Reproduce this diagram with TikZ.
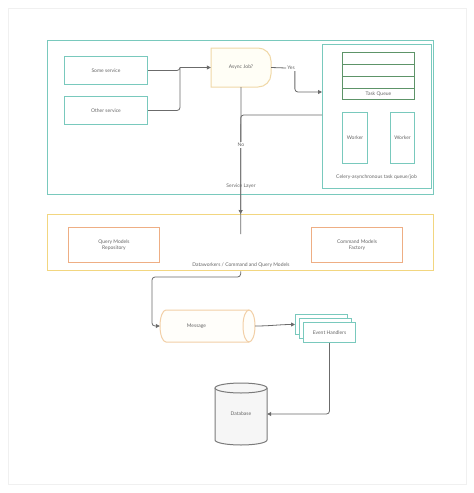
\documentclass[tikz,border=0pt]{standalone}
\usepackage{fontspec}
\setmainfont{Lato}
\usetikzlibrary{arrows.meta,calc}
\definecolor{teal1}{HTML}{79C9BD}
\definecolor{green1}{HTML}{5D9468}
\definecolor{yellow1}{HTML}{F2D680}
\definecolor{orange1}{HTML}{EEAE84}
\definecolor{asyncb}{HTML}{F0D9A8}
\definecolor{asyncf}{HTML}{FFFEF6}
\definecolor{msgb}{HTML}{F2CFA6}
\definecolor{msgf}{HTML}{FFFEFA}
\definecolor{linec}{HTML}{6B6B6B}
\definecolor{txt}{HTML}{666666}
\definecolor{dbf}{HTML}{F6F6F6}
\definecolor{dbb}{HTML}{7A7A7A}
\definecolor{pageb}{HTML}{F0F0F0}
\tikzset{
  lbl/.style={font=\fontsize{5}{6}\selectfont, text=txt, inner sep=1pt, align=center},
  svcbox/.style={draw=teal1, line width=1pt, fill=white},
  conn/.style={draw=linec, line width=0.8pt, rounded corners=3pt, -{Triangle[length=4pt,width=4pt]}},
  plain/.style={draw=linec, line width=0.8pt, rounded corners=3pt},
}
\newcommand{\rbox}[7]{% name, x1,y1,x2,y2, style, text
  \node[#6, minimum width=#4-#2, minimum height=#5-#3, anchor=north west, inner sep=0pt, lbl, text=txt] (#1) at (#2,#3) {#7};}
\begin{document}
\begin{tikzpicture}[x=1pt,y=-1pt]
\useasboundingbox (0,0) rectangle (474,493);
\fill[white] (0,0) rectangle (474,493);
\draw[pageb, line width=0.8pt] (8,8) rectangle (466,484);

% Service layer
\rbox{svc}{47}{40}{433}{194}{draw=teal1, line width=1.3pt}{}
\rbox{some}{64}{56}{147}{84}{svcbox}{Some service}
\rbox{other}{64}{96}{147}{124}{svcbox}{Other service}

% Async job shape
\filldraw[draw=asyncb, fill=asyncf, line width=1pt]
  (211,48) -- (258,48) arc[start angle=-90, end angle=0, radius=13]
  -- (271,74) arc[start angle=0, end angle=90, radius=13] -- (211,87) -- cycle;
\node[lbl, minimum width=60pt, minimum height=39pt, inner sep=0pt] (async) at (241,67.5) {Async Job?};

% Celery
\rbox{celery}{322}{44}{431}{188}{draw=teal1, line width=1pt}{}
\node[lbl] (celerylbl) at (376.5,177) {Celery-asynchronous task queue/job};
\rbox{q1}{342}{52}{414}{64}{draw=green1, line width=1pt}{}
\rbox{q2}{342}{64}{414}{76}{draw=green1, line width=1pt}{}
\rbox{q3}{342}{76}{414}{88}{draw=green1, line width=1pt}{}
\rbox{tq}{342}{88}{414}{99}{draw=green1, line width=1pt, text=green1}{Task Queue}
\rbox{w1}{342}{112}{367}{163}{draw=teal1, line width=1pt}{Worker}
\rbox{w2}{390}{112}{414}{163}{draw=teal1, line width=1pt}{Worker}

% Dataworkers
\rbox{dw}{47}{214}{433}{270}{draw=yellow1, line width=1.3pt}{}
\rbox{qm}{68}{227}{159}{262}{draw=orange1, line width=1pt}{Query Models\\Repository}
\rbox{cm}{311}{227}{402}{262}{draw=orange1, line width=1pt}{Command Models\\Factory}
\node[lbl] (dwlbl) at (241,265) {Dataworkers / Command and Query Models};

% Message cylinder
\fill[msgf] (166,310) rectangle (249,342);
\fill[msgf] (166,326) ellipse [x radius=6, y radius=16];
\fill[msgf] (249,326) ellipse [x radius=6, y radius=16];
\draw[msgb, line width=1pt] (249,310) -- (166,310)
  arc[start angle=-90, end angle=-270, x radius=6, y radius=16] -- (249,342);
\draw[msgb, line width=1pt] (249,326) ellipse [x radius=6, y radius=16];
\node[lbl, minimum width=95pt, minimum height=32pt, inner sep=0pt] (msg) at (207.5,326) {\hspace*{-22pt}Message};

% Event handlers stack
\rbox{eh3}{295}{314}{347}{334}{svcbox}{}
\rbox{eh2}{299}{318}{351}{338}{svcbox}{}
\rbox{eh1}{303}{322}{355}{342}{svcbox}{Event Handlers}

% Database
\filldraw[draw=dbb, fill=dbf, line width=1pt] (215,388) -- (215,440)
  arc[start angle=180, end angle=0, x radius=26, y radius=5] -- (267,388);
\filldraw[draw=dbb, fill=dbf, line width=1pt] (241,388) ellipse [x radius=26, y radius=5];
\node[lbl, minimum width=52pt, minimum height=62pt, inner sep=0pt] (db) at (241,414) {Database};

% Connectors
\coordinate (j1) at (180,67.5);
\draw[plain] (some.east) -| (j1);
\draw[plain] (other.east) -| (j1);
\draw[conn] (j1) -- (async.west);
\node[lbl, fill=white] (yes) at (291,68) {Yes};
\draw[plain] (async.east) -- (yes.west);
\draw[conn] ([xshift=-1pt]yes.south east) |- (celery.west |- 0,92);
\draw[conn] (async.south) -- (dw.north);
\draw[plain] (celery.west |- 0,115) -| ([yshift=-20pt]dw.north);
\node[lbl, fill=white] (no) at (241,145) {No};
\node[lbl] (svclbl) at (241,186) {Service Layer};
\draw[conn] (dw.south) |- (152,277) |- (msg.west);
\draw[conn] (msg.east) to[out=0, in=180] (eh3.west);
\draw[conn] (eh1.south) |- (db.east);
\end{tikzpicture}
\end{document}
